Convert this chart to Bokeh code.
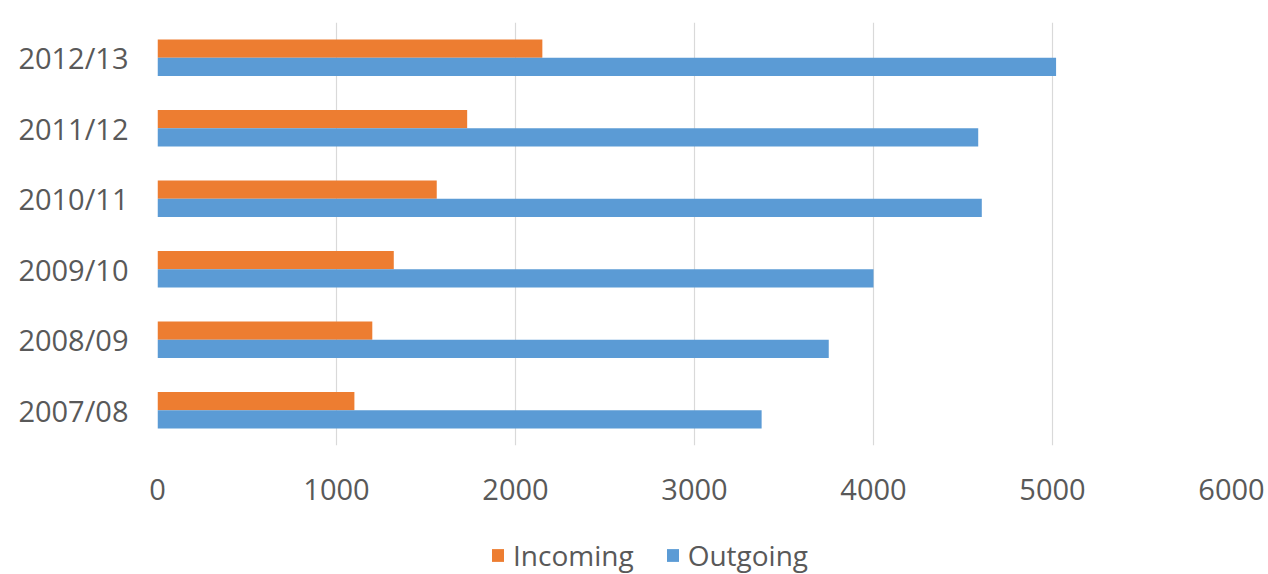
from bokeh.plotting import figure
from bokeh.layouts import column
from bokeh.models import FactorRange, Range1d, FixedTicker, Legend, LegendItem, ColumnDataSource
from bokeh.transform import dodge
from bokeh.embed import file_html
from bokeh.resources import INLINE

categories = ["2007/08", "2008/09", "2009/10", "2010/11", "2011/12", "2012/13"]
incoming = [1100, 1200, 1320, 1560, 1730, 2150]
outgoing = [3375, 3750, 4000, 4605, 4585, 5020]
x_ticks = [0, 1000, 2000, 3000, 4000, 5000, 6000]
series_names = ["Incoming", "Outgoing"]

ORANGE = "#ED7D31"
BLUE = "#5B9BD5"
TEXT = "#595959"
FONT = "Open Sans"

source = ColumnDataSource(dict(cat=categories, incoming=incoming, outgoing=outgoing))

p = figure(width=1268, height=520,
           y_range=FactorRange(*categories), x_range=Range1d(0, 6000),
           output_backend="svg", toolbar_location=None,
           min_border_left=157, min_border_right=37, min_border_top=22, min_border_bottom=75)

r1 = p.hbar(y=dodge("cat", 0.13, range=p.y_range), left=0, right="incoming", height=0.26,
            source=source, fill_color=ORANGE, line_color=None)
r2 = p.hbar(y=dodge("cat", -0.13, range=p.y_range), left=0, right="outgoing", height=0.26,
            source=source, fill_color=BLUE, line_color=None)

p.outline_line_color = None
p.background_fill_color = "white"
p.border_fill_color = "white"

p.xaxis.ticker = FixedTicker(ticks=x_ticks)
p.xaxis.axis_line_color = None
p.xaxis.major_tick_line_color = None
p.xaxis.minor_tick_line_color = None
p.xaxis.major_tick_out = 0
p.xaxis.major_label_standoff = 33
p.xaxis.major_label_text_font = FONT
p.xaxis.major_label_text_font_size = "29px"
p.xaxis.major_label_text_color = TEXT

p.yaxis.axis_line_color = None
p.yaxis.major_tick_line_color = None
p.yaxis.minor_tick_line_color = None
p.yaxis.major_tick_out = 0
p.yaxis.major_label_standoff = 29
p.yaxis.major_label_text_font = FONT
p.yaxis.major_label_text_font_size = "29px"
p.yaxis.major_label_text_color = TEXT

p.xgrid.grid_line_color = "#D9D9D9"
p.xgrid.grid_line_width = 1.2
p.ygrid.grid_line_color = None

# legend strip below the chart (series renderers with zero height, only used for the legend swatches)
lp = figure(width=1268, height=54, x_range=Range1d(0, 6000), y_range=Range1d(0, 1),
            output_backend="svg", toolbar_location=None,
            min_border=0, min_border_left=157, min_border_right=37,
            min_border_top=0, min_border_bottom=0)
lp.axis.visible = False
lp.grid.visible = False
lp.outline_line_color = None
lp.border_fill_color = "white"
lp.background_fill_color = "white"
lr1 = lp.hbar(y=-1, left=0, right="incoming", height=0, source=source,
              fill_color=ORANGE, line_color=None)
lr2 = lp.hbar(y=-1, left=0, right="outgoing", height=0, source=source,
              fill_color=BLUE, line_color=None)

legend = Legend(items=[LegendItem(label=series_names[0], renderers=[lr1]),
                       LegendItem(label=series_names[1], renderers=[lr2])],
                orientation="horizontal", location=(333, 0),
                border_line_color=None, background_fill_alpha=0,
                padding=0, margin=0, spacing=31, label_standoff=8,
                glyph_width=15, glyph_height=16,
                label_text_font=FONT, label_text_font_size="28px",
                label_text_color=TEXT)
lp.add_layout(legend)

layout = column(p, lp, spacing=0)
open("out.html", "w").write(file_html(layout, INLINE))
